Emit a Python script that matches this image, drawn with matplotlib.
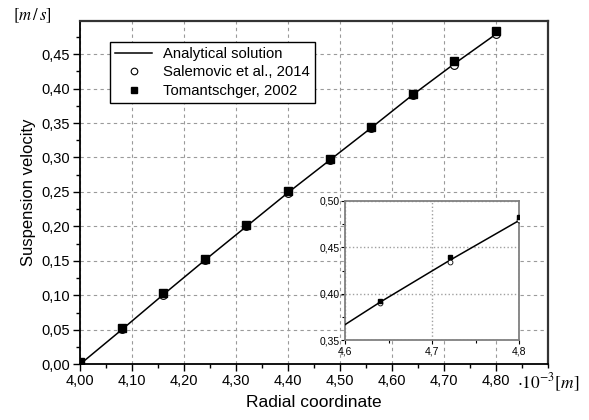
import numpy as np
import matplotlib
matplotlib.use("Agg")
import matplotlib.pyplot as plt
from matplotlib.ticker import MultipleLocator, FuncFormatter

plt.rcParams["font.family"] = ["Liberation Sans", "DejaVu Sans"]
plt.rcParams["mathtext.fontset"] = "stix"

# radial coordinate (x 10^-3 m)
raio = [4.00, 4.08, 4.16, 4.24, 4.32, 4.40, 4.48, 4.56, 4.64, 4.72, 4.80]
analitica = [0.000, 0.050, 0.101, 0.151, 0.200, 0.249, 0.296, 0.343, 0.391, 0.436, 0.479]
salemovic = [0.002, 0.051, 0.101, 0.151, 0.200, 0.248, 0.296, 0.343, 0.390, 0.434, 0.479]
tomantschger = [0.003, 0.053, 0.103, 0.153, 0.202, 0.252, 0.298, 0.344, 0.392, 0.440, 0.483]

rotulos = ["Analytical solution", "Salemovic et al., 2014", "Tomantschger, 2002"]


def virgula(casas):
    return FuncFormatter(lambda v, p: f"{v:.{casas}f}".replace(".", ","))


def desenhar(ax, ms, mew):
    l1, = ax.plot(raio, analitica, color="black", lw=1.1, zorder=3)
    l2, = ax.plot(raio, salemovic, "o", ms=ms, mfc="white", mec="black", mew=mew, ls="none", zorder=4)
    l3, = ax.plot(raio, tomantschger, "s", ms=ms, color="black", ls="none", zorder=5)
    return [l1, l2, l3]


fig = plt.figure(figsize=(5.89, 4.2), dpi=100)
ax = fig.add_axes([0.1358, 0.1326, 0.7946, 0.8174])

linhas = desenhar(ax, 5.6, 0.8)
ax.set_xlim(4.0, 4.9)
ax.set_ylim(0.0, 0.498)
ax.xaxis.set_major_locator(MultipleLocator(0.1))
ax.xaxis.set_minor_locator(MultipleLocator(0.05))
ax.yaxis.set_major_locator(MultipleLocator(0.05))
ax.yaxis.set_minor_locator(MultipleLocator(0.025))
ax.xaxis.set_major_formatter(virgula(2))
ax.yaxis.set_major_formatter(virgula(2))
ax.set_xticks([4.0, 4.1, 4.2, 4.3, 4.4, 4.5, 4.6, 4.7, 4.8])
ax.tick_params(which="major", direction="out", length=5, width=1, labelsize=10.5, pad=2)
ax.tick_params(which="minor", direction="out", length=3, width=1)
ax.grid(True, which="major", color="#9a9a9a", ls=(0, (3, 3)), lw=0.8)
for s in ["left", "bottom"]:
    ax.spines[s].set_linewidth(1.3)
for s in ["top", "right"]:
    ax.spines[s].set_linewidth(1.6)
    ax.spines[s].set_color("#333333")

ax.set_xlabel("Radial coordinate", fontsize=12.5, labelpad=5)
ax.set_ylabel("Suspension velocity", fontsize=12, labelpad=4)
fig.text(0.022, 0.963, r"$[m\,/\,s]$", fontsize=12, va="center", ha="left")
fig.text(0.878, 0.088, r"$\cdot10^{-3}[m]$", fontsize=12.5, va="center", ha="left")

leg = ax.legend(linhas, rotulos, loc="upper left", bbox_to_anchor=(0.064, 0.94),
                borderaxespad=0, fontsize=10.7, handlelength=2.5, handletextpad=0.75,
                labelspacing=0.3, fancybox=False, framealpha=1, edgecolor="black",
                borderpad=0.35, markerscale=0.85)
leg.get_frame().set_linewidth(1.0)

# inset
axi = fig.add_axes([0.5857, 0.1893, 0.296, 0.3326])
desenhar(axi, 3.5, 0.6)
axi.set_xlim(4.6, 4.8)
axi.set_ylim(0.35, 0.50)
axi.set_xticks([4.6, 4.7, 4.8])
axi.xaxis.set_minor_locator(MultipleLocator(0.05))
axi.set_yticks([0.35, 0.40, 0.45, 0.50])
axi.yaxis.set_minor_locator(MultipleLocator(0.025))
axi.xaxis.set_major_formatter(virgula(1))
axi.yaxis.set_major_formatter(virgula(2))
axi.tick_params(which="major", direction="out", length=3, width=0.8, labelsize=7.5, pad=1)
axi.tick_params(which="minor", direction="out", length=2, width=0.8)
axi.grid(True, which="major", color="#a0a0a0", ls=":", lw=1.0)
for s in axi.spines.values():
    s.set_color("#808080")
    s.set_linewidth(1.3)

fig.savefig("out.png", dpi=100)
